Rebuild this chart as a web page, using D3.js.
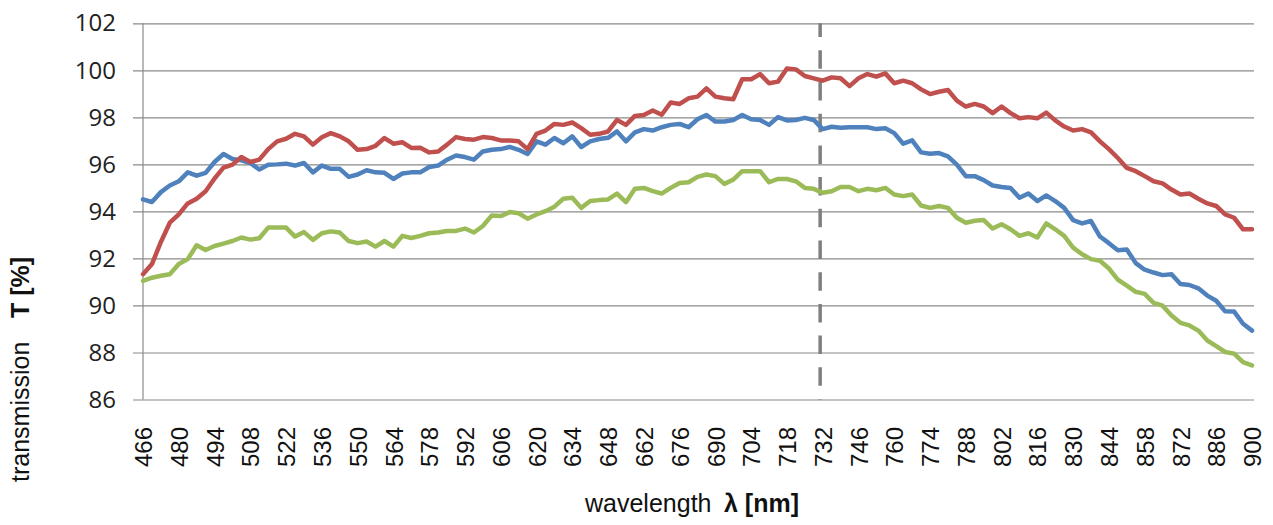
<!DOCTYPE html>
<html>
<head>
<meta charset="utf-8">
<script src="https://cdn.jsdelivr.net/npm/d3@7"></script>
<style>
  html, body { margin: 0; padding: 0; background: #fff; }
  svg { display: block; }
</style>
</head>
<body>
<svg id="chart" width="1273" height="525"></svg>
<script>
// ---- data ----
const wavelengths = [
  466,469.5,473,476.5,480,483.5,487,490.5,494,497.5,
  501,504.5,508,511.5,515,518.5,522,525.5,529,532.5,
  536,539.5,543,546.5,550,553.5,557,560.5,564,567.5,
  571,574.5,578,581.5,585,588.5,592,595.5,599,602.5,
  606,609.5,613,616.5,620,623.5,627,630.5,634,637.5,
  641,644.5,648,651.5,655,658.5,662,665.5,669,672.5,
  676,679.5,683,686.5,690,693.5,697,700.5,704,707.5,
  711,714.5,718,721.5,725,728.5,732,735.5,739,742.5,
  746,749.5,753,756.5,760,763.5,767,770.5,774,777.5,
  781,784.5,788,791.5,795,798.5,802,805.5,809,812.5,
  816,819.5,823,826.5,830,833.5,837,840.5,844,847.5,
  851,854.5,858,861.5,865,868.5,872,875.5,879,882.5,
  886,889.5,893,896.5,900
];
const redSeries = [
  91.33,91.76,92.7,93.52,93.87,94.34,94.54,94.86,95.4,95.86,
  95.99,96.31,96.1,96.2,96.65,96.98,97.09,97.3,97.19,96.84,
  97.15,97.33,97.19,96.98,96.62,96.65,96.79,97.12,96.88,96.94,
  96.7,96.71,96.51,96.55,96.84,97.16,97.08,97.05,97.16,97.12,
  97.02,97.02,96.98,96.65,97.3,97.44,97.72,97.68,97.78,97.54,
  97.26,97.3,97.4,97.89,97.68,98.06,98.1,98.29,98.11,98.63,
  98.57,98.81,98.88,99.23,98.88,98.81,98.77,99.62,99.62,99.84,
  99.45,99.52,100.08,100.04,99.76,99.66,99.56,99.7,99.66,99.33,
  99.66,99.84,99.73,99.87,99.45,99.56,99.45,99.19,98.99,99.09,
  99.16,98.71,98.46,98.57,98.46,98.18,98.46,98.18,97.96,98.01,
  97.96,98.2,97.87,97.61,97.44,97.5,97.36,96.98,96.65,96.27,
  95.85,95.71,95.5,95.28,95.19,94.93,94.72,94.76,94.54,94.34,
  94.23,93.87,93.73,93.24,93.24
];
const blueSeries = [
  94.51,94.4,94.82,95.1,95.28,95.66,95.52,95.64,96.1,96.44,
  96.23,96.17,96.06,95.78,95.98,96.0,96.03,95.95,96.06,95.66,
  95.95,95.81,95.81,95.47,95.57,95.75,95.66,95.64,95.38,95.61,
  95.66,95.66,95.89,95.95,96.2,96.38,96.31,96.2,96.55,96.62,
  96.65,96.74,96.62,96.44,96.98,96.84,97.12,96.9,97.19,96.74,
  96.98,97.08,97.13,97.4,96.98,97.36,97.5,97.44,97.58,97.68,
  97.72,97.58,97.92,98.1,97.82,97.82,97.89,98.1,97.92,97.89,
  97.68,98.01,97.87,97.89,97.98,97.89,97.5,97.6,97.56,97.58,
  97.58,97.58,97.5,97.54,97.33,96.88,97.02,96.51,96.45,96.48,
  96.34,95.99,95.5,95.5,95.33,95.1,95.04,95.0,94.58,94.76,
  94.44,94.68,94.44,94.15,93.63,93.49,93.59,92.93,92.65,92.35,
  92.38,91.8,91.52,91.4,91.29,91.33,90.91,90.87,90.73,90.42,
  90.2,89.75,89.74,89.22,88.93
];
const greenSeries = [
  91.05,91.18,91.26,91.33,91.76,91.97,92.56,92.36,92.53,92.63,
  92.74,92.89,92.8,92.86,93.31,93.31,93.31,92.93,93.12,92.79,
  93.07,93.15,93.1,92.74,92.65,92.72,92.5,92.74,92.5,92.96,
  92.87,92.96,93.07,93.1,93.17,93.17,93.27,93.1,93.38,93.83,
  93.8,93.97,93.92,93.69,93.87,94.01,94.2,94.54,94.58,94.15,
  94.44,94.48,94.51,94.76,94.39,94.96,95.0,94.86,94.76,95.0,
  95.21,95.24,95.47,95.57,95.5,95.17,95.35,95.71,95.71,95.71,
  95.24,95.38,95.38,95.28,95.0,94.96,94.79,94.86,95.04,95.04,
  94.86,94.96,94.9,95.0,94.72,94.65,94.72,94.25,94.15,94.23,
  94.15,93.73,93.52,93.6,93.63,93.27,93.45,93.24,92.96,93.07,
  92.89,93.49,93.24,92.96,92.46,92.18,91.97,91.9,91.57,91.1,
  90.84,90.58,90.49,90.11,89.99,89.57,89.26,89.15,88.93,88.51,
  88.27,88.02,87.95,87.59,87.45
];
const xTickLabels = [466,480,494,508,522,536,550,564,578,592,606,620,634,648,662,676,
                     690,704,718,732,746,760,774,788,802,816,830,844,858,872,886,900];
const yTickLabels = [86,88,90,92,94,96,98,100,102];
const markerWavelength = 731;
const seriesList = [
  { name: "blue",  values: blueSeries,  color: "#4F81BD" },
  { name: "red",   values: redSeries,   color: "#C0504D" },
  { name: "green", values: greenSeries, color: "#9BBB59" }
];

// ---- layout ----
const svg = d3.select("#chart");
const plotLeft = 143, plotRight = 1252, gridLeft = 133, gridRight = 1254;
const x = d3.scaleLinear().domain([466, 900]).range([plotLeft, plotRight]);
const y = d3.scaleLinear().domain([86, 102]).range([399.5, 23.3]);
const gridColor = "#8a8a8a";

// y axis with gridlines
const yAxis = svg.append("g")
  .attr("transform", `translate(${gridLeft},0)`)
  .call(d3.axisLeft(y).tickValues(yTickLabels).tickSize(-(gridRight - gridLeft)).tickPadding(17).tickFormat(d3.format("d")));
yAxis.select(".domain").remove();
yAxis.selectAll(".tick line").attr("stroke", gridColor).attr("stroke-width", 1.2);
yAxis.selectAll(".tick text")
  .attr("font-family", "'Open Sans', sans-serif")
  .attr("font-size", 24)
  .attr("fill", "#222");

// vertical axis line
svg.append("line")
  .attr("x1", plotLeft).attr("x2", plotLeft)
  .attr("y1", y(102)).attr("y2", y(86))
  .attr("stroke", gridColor).attr("stroke-width", 1.2);

// x axis labels
const xAxis = svg.append("g")
  .attr("transform", `translate(0,${y(86)})`)
  .call(d3.axisBottom(x).tickValues(xTickLabels).tickSize(0).tickFormat(d3.format("d")));
xAxis.select(".domain").remove();
xAxis.selectAll(".tick text")
  .attr("font-family", "'Liberation Sans', Arial, sans-serif")
  .attr("font-size", 24)
  .attr("fill", "#111")
  .attr("text-anchor", "end")
  .attr("transform", "rotate(-90)")
  .attr("x", -27.5)
  .attr("y", 0)
  .attr("dy", "0.36em");

// dashed marker line
svg.append("line")
  .attr("x1", x(markerWavelength)).attr("x2", x(markerWavelength))
  .attr("y1", y(102)).attr("y2", y(86))
  .attr("stroke", "#7f7f7f").attr("stroke-width", 3.5)
  .attr("stroke-dasharray", "18.5,13.2")
  .attr("stroke-dashoffset", 4.7);

// series lines
const line = d3.line()
  .x((d, i) => x(wavelengths[i]))
  .y(d => y(d));
svg.append("g").selectAll("path")
  .data(seriesList)
  .join("path")
  .attr("d", s => line(s.values))
  .attr("fill", "none")
  .attr("stroke", s => s.color)
  .attr("stroke-width", 4.5)
  .attr("stroke-linejoin", "round")
  .attr("stroke-linecap", "round");

// axis titles
const xt = svg.append("text")
  .attr("x", 585).attr("y", 512)
  .attr("font-family", "'Liberation Sans', Arial, sans-serif")
  .attr("font-size", 25).attr("fill", "#111");
xt.append("tspan").text("wavelength");
xt.append("tspan").attr("x", 724).attr("font-weight", "bold").text("λ [nm]");

const yt = svg.append("text")
  .attr("transform", "translate(29,482) rotate(-90)")
  .attr("font-family", "'Liberation Sans', Arial, sans-serif")
  .attr("font-size", 25).attr("fill", "#111");
yt.append("tspan").text("transmission");
yt.append("tspan").attr("x", 164).attr("font-weight", "bold").text("T [%]");
</script>
</body>
</html>
